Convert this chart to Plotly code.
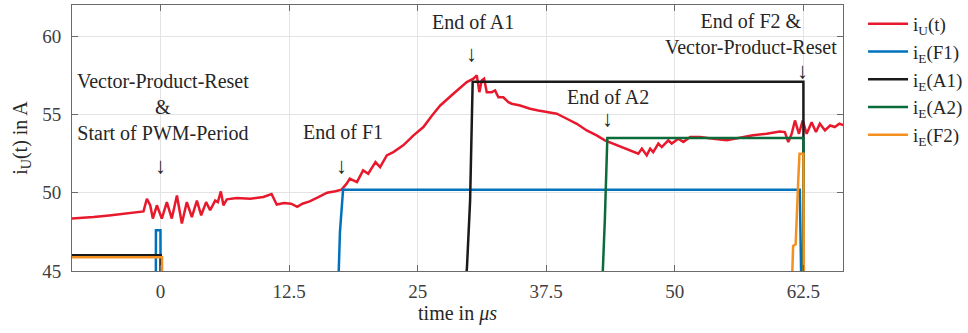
import plotly.graph_objects as go

# ---------------- data ----------------
t_u = [-8.6, -7.6, -6.5, -5.0, -3.5, -2.0, -1.65, -1.32, -1.0, -0.74, -0.35, 0.13, 0.62, 1.1, 1.6,
       2.08, 2.56, 3.05, 3.54, 3.96, 4.44, 4.83, 5.32, 5.58, 5.87, 6.12, 6.45, 7.42, 8.72, 10.0,
       10.8, 11.3, 12.0, 12.7, 13.3, 13.8, 14.5, 15.3, 16.2, 17.0, 17.6, 18.1, 18.4, 19.1, 19.7,
       20.2, 20.9, 21.35, 22.0, 22.64, 23.6, 24.6, 25.56, 26.4, 27.2, 28.47, 29.78, 30.42, 30.75,
       31.0, 31.23, 31.46, 31.72, 32.2, 32.53, 32.85, 33.33, 33.82, 34.15, 34.96, 35.93, 36.73,
       37.55, 38.52, 39.5, 40.47, 41.44, 42.4, 43.2, 44.0, 44.7, 46.0, 46.45, 46.8, 47.27, 47.6,
       47.9, 48.4, 48.73, 49.37, 49.7, 50.34, 50.83, 51.5, 52.45, 53.74, 55.04, 56.33, 57.6, 58.93,
       60.2, 60.7, 61.03, 61.36, 61.68, 62.07, 62.43, 62.82, 63.3, 63.72, 64.1, 64.6, 65.1, 65.55,
       66.0, 66.5]
i_u = [48.35, 48.42, 48.45, 48.55, 48.68, 48.77, 48.81, 49.62, 49.2, 48.35, 49.2, 48.35, 49.4, 48.35, 49.83,
       48.03, 49.4, 48.45, 49.5, 48.56, 49.4, 48.88, 49.5, 49.4, 50.09, 49.2, 49.58, 49.66, 49.62, 49.73,
       49.92, 49.25, 49.35, 49.3, 49.1, 49.3, 49.45, 49.7, 50.0, 50.1, 50.2, 50.58, 50.9, 50.68, 51.43,
       51.22, 51.96, 51.64, 52.39, 52.6, 53.03, 53.67, 54.2, 54.94, 55.58, 56.33, 57.07, 57.29, 57.5,
       56.43, 57.18, 57.29, 56.43, 56.43, 56.54, 56.1, 56.1, 55.79, 55.69, 55.58, 55.37, 55.26,
       55.15, 55.05, 54.73, 54.41, 53.98, 53.67, 53.35, 53.14, 52.92, 52.6, 52.5, 52.82, 52.39, 52.82,
       52.6, 53.14, 52.92, 53.35, 53.14, 53.45, 53.24, 53.56, 53.56, 53.45, 53.35, 53.52, 53.67, 53.77,
       53.92, 53.88, 53.24, 53.77, 54.62, 53.77, 54.62, 53.77, 54.51, 53.88, 54.41, 53.98, 54.3, 54.2,
       54.41, 54.3]

t_f1 = [-8.6, -0.45, -0.44, 0.0, 0.01, 17.28, 17.45, 17.75, 62.15, 62.3]
i_f1 = [44.0, 44.0, 47.6, 47.6, 44.0, 44.0, 47.5, 50.2, 50.2, 44.0]

t_a1 = [-8.6, 0.03, 0.04, 29.65, 29.8, 30.1, 30.35, 62.5, 62.52]
i_a1 = [46.0, 46.0, 44.0, 44.0, 45.3, 49.5, 57.1, 57.1, 44.0]

t_a2 = [-8.6, 42.9, 43.0, 43.2, 43.44, 62.5, 62.52]
i_a2 = [44.0, 44.0, 45.0, 48.3, 53.5, 53.5, 44.0]

t_f2 = [-8.6, 0.15, 0.16, 61.38, 61.5, 61.75, 62.0, 62.12, 62.5, 62.55]
i_f2 = [45.88, 45.88, 44.0, 44.0, 46.6, 46.7, 50.8, 52.5, 52.5, 44.0]

series_names = ["i<sub>U</sub>(t)", "i<sub>E</sub>(F1)", "i<sub>E</sub>(A1)",
                "i<sub>E</sub>(A2)", "i<sub>E</sub>(F2)"]
series_colors = ["#E8192C", "#0072BD", "#1A1A1A", "#0B6B3A", "#F39020"]

x_tickvals = [0, 12.5, 25, 37.5, 50, 62.5]
x_ticktext = ["0", "12.5", "25", "37.5", "50", "62.5"]
y_tickvals = [45, 50, 55, 60]

# annotations: (text, x, y)
notes = [
    ("Vector-Product-Reset<br>&<br>Start of PWM-Period", 0.26, 55.45),
    ("End of F1", 17.73, 53.88),
    ("End of A1", 30.35, 60.9),
    ("End of A2", 43.5, 56.11),
    ("End of F2 &<br>Vector-Product-Reset", 57.4, 60.16),
]
arrows = [(-0.03, 51.75), (17.63, 51.75), (30.25, 58.9), (43.5, 54.75), (62.4, 57.82)]

# ---------------- figure ----------------
FONT = "Liberation Serif"
TXT = "#262626"
fig = go.Figure()
for (tx, ty), name, col in zip([(t_u, i_u), (t_f1, i_f1), (t_a1, i_a1), (t_a2, i_a2), (t_f2, i_f2)],
                               series_names, series_colors):
    fig.add_trace(go.Scatter(x=tx, y=ty, mode="lines", name=name,
                             line=dict(color=col, width=2.5)))

for txt, x, y in notes:
    fig.add_annotation(x=x, y=y, xref="x", yref="y", text=txt, showarrow=False,
                       font=dict(family=FONT, size=20, color=TXT), align="center")
for x, y in arrows:
    fig.add_annotation(x=x, y=y, xref="x", yref="y", text="↓", showarrow=False,
                       font=dict(family=FONT, size=22, color=TXT))

axis_common = dict(showline=True, linecolor="#6a6a6a", linewidth=1, mirror="ticks",
                   ticks="inside", ticklen=6, tickcolor="#6a6a6a", showgrid=True,
                   gridcolor="#e3e3e3", gridwidth=1, zeroline=False, automargin=False,
                   tickfont=dict(family=FONT, size=19, color="#404040"))
fig.update_xaxes(range=[-8.6, 66.35], tickvals=x_tickvals, ticktext=x_ticktext,
                 ticklabelstandoff=3,
                 title=dict(text="time in <i>μs</i>", font=dict(family=FONT, size=20, color=TXT),
                            standoff=2), **axis_common)
fig.update_yaxes(range=[45, 62], tickvals=y_tickvals, ticklabelstandoff=6,
                 title=dict(text="i<sub>U</sub>(t) in A", font=dict(family=FONT, size=20, color=TXT),
                            standoff=9), **axis_common)

fig.update_layout(
    width=968, height=333,
    margin=dict(l=72, r=125, t=5, b=62, autoexpand=False),
    paper_bgcolor="white", plot_bgcolor="white",
    font=dict(family=FONT, color=TXT),
    hovermode=False,
    showlegend=True,
    legend=dict(x=1.026, y=1.0, xanchor="left", yanchor="top", itemwidth=40,
                font=dict(family=FONT, size=19, color=TXT),
                bgcolor="rgba(0,0,0,0)", borderwidth=0, tracegroupgap=0),
)
fig.write_html("out.html", config={"displayModeBar": False},
               post_script="document.body.style.margin='0';document.body.style.overflow='hidden';")
